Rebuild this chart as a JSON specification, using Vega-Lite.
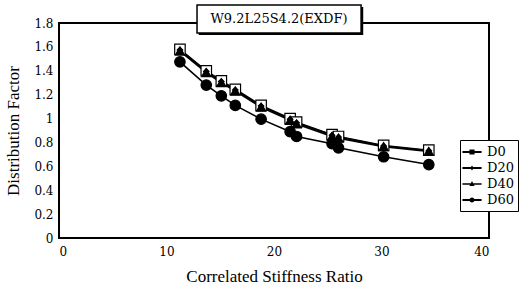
{
  "$schema": "https://vega.github.io/schema/vega-lite/v6.json",
  "width": 430,
  "height": 215,
  "autosize": "none",
  "padding": {"left": 59, "top": 23, "right": 40, "bottom": 47},
  "background": "white",
  "config": {
    "view": {"stroke": "black", "strokeWidth": 2},
    "font": "DejaVu Serif",
    "axis": {
      "grid": false,
      "domain": false,
      "ticks": false,
      "labelFont": "DejaVu Serif",
      "labelFontWeight": "normal",
      "labelFontSize": 12,
      "labelColor": "black",
      "labelOverlap": false,
      "titleFont": "Liberation Serif",
      "titleFontWeight": "normal",
      "titleFontSize": 17,
      "titleColor": "black"
    },
    "legend": {"labelFont": "DejaVu Serif", "labelFontWeight": "normal"}
  },
  "datasets": {
    "pts": [
      {"series": "D0", "ratio": 11.25, "factor": 1.58},
      {"series": "D0", "ratio": 13.7, "factor": 1.40},
      {"series": "D0", "ratio": 15.1, "factor": 1.315},
      {"series": "D0", "ratio": 16.4, "factor": 1.245},
      {"series": "D0", "ratio": 18.8, "factor": 1.11},
      {"series": "D0", "ratio": 21.5, "factor": 1.0},
      {"series": "D0", "ratio": 22.1, "factor": 0.97},
      {"series": "D0", "ratio": 25.4, "factor": 0.865},
      {"series": "D0", "ratio": 26.0, "factor": 0.85},
      {"series": "D0", "ratio": 30.2, "factor": 0.775},
      {"series": "D0", "ratio": 34.4, "factor": 0.735},
      {"series": "D20", "ratio": 11.25, "factor": 1.575},
      {"series": "D20", "ratio": 13.7, "factor": 1.395},
      {"series": "D20", "ratio": 15.1, "factor": 1.31},
      {"series": "D20", "ratio": 16.4, "factor": 1.24},
      {"series": "D20", "ratio": 18.8, "factor": 1.105},
      {"series": "D20", "ratio": 21.5, "factor": 0.995},
      {"series": "D20", "ratio": 22.1, "factor": 0.965},
      {"series": "D20", "ratio": 25.4, "factor": 0.86},
      {"series": "D20", "ratio": 26.0, "factor": 0.845},
      {"series": "D20", "ratio": 30.2, "factor": 0.77},
      {"series": "D20", "ratio": 34.4, "factor": 0.73},
      {"series": "D40", "ratio": 11.25, "factor": 1.565},
      {"series": "D40", "ratio": 13.7, "factor": 1.385},
      {"series": "D40", "ratio": 15.1, "factor": 1.30},
      {"series": "D40", "ratio": 16.4, "factor": 1.23},
      {"series": "D40", "ratio": 18.8, "factor": 1.095},
      {"series": "D40", "ratio": 21.5, "factor": 0.985},
      {"series": "D40", "ratio": 22.1, "factor": 0.955},
      {"series": "D40", "ratio": 25.4, "factor": 0.85},
      {"series": "D40", "ratio": 26.0, "factor": 0.835},
      {"series": "D40", "ratio": 30.2, "factor": 0.765},
      {"series": "D40", "ratio": 34.4, "factor": 0.725},
      {"series": "D60", "ratio": 11.25, "factor": 1.475},
      {"series": "D60", "ratio": 13.7, "factor": 1.28},
      {"series": "D60", "ratio": 15.1, "factor": 1.19},
      {"series": "D60", "ratio": 16.4, "factor": 1.11},
      {"series": "D60", "ratio": 18.8, "factor": 0.995},
      {"series": "D60", "ratio": 21.5, "factor": 0.89},
      {"series": "D60", "ratio": 22.1, "factor": 0.85},
      {"series": "D60", "ratio": 25.4, "factor": 0.79},
      {"series": "D60", "ratio": 26.0, "factor": 0.755},
      {"series": "D60", "ratio": 30.2, "factor": 0.68},
      {"series": "D60", "ratio": 34.4, "factor": 0.615}
    ],
    "ttl": [{"label": "W9.2L25S4.2(EXDF)"}]
  },
  "resolve": {"scale": {"shape": "independent", "fill": "independent", "size": "independent"}},
  "layer": [
    {
      "data": {"name": "pts"},
      "mark": {"type": "line", "color": "black", "strokeWidth": 1.6},
      "encoding": {
        "x": {"field": "ratio", "type": "quantitative", "scale": {"domain": [0, 40]},
              "axis": {"values": [0, 10, 20, 30, 40], "title": "Correlated Stiffness Ratio", "labelPadding": 8, "titlePadding": 11, "labelOverlap": false}},
        "y": {"field": "factor", "type": "quantitative", "scale": {"domain": [0, 1.8]},
              "axis": {"values": [0, 0.2, 0.4, 0.6, 0.8, 1, 1.2, 1.4, 1.6, 1.8], "format": "~g", "title": "Distribution Factor", "labelPadding": 6, "titlePadding": 11, "labelOverlap": false}},
        "detail": {"field": "series"}
      }
    },
    {
      "data": {"name": "pts"},
      "mark": {"type": "point", "filled": true, "stroke": "black", "strokeWidth": 1.2, "opacity": 1},
      "encoding": {
        "x": {"field": "ratio", "type": "quantitative", "scale": {"domain": [0, 40]},
              "axis": {"values": [0, 10, 20, 30, 40], "title": "Correlated Stiffness Ratio", "labelPadding": 8, "titlePadding": 11, "labelOverlap": false}},
        "y": {"field": "factor", "type": "quantitative", "scale": {"domain": [0, 1.8]},
              "axis": {"values": [0, 0.2, 0.4, 0.6, 0.8, 1, 1.2, 1.4, 1.6, 1.8], "format": "~g", "title": "Distribution Factor", "labelPadding": 6, "titlePadding": 11, "labelOverlap": false}},
        "shape": {"field": "series", "type": "nominal", "legend": null,
                  "scale": {"domain": ["D0", "D20", "D40", "D60"], "range": ["square", "diamond", "triangle-up", "circle"]}},
        "fill": {"field": "series", "type": "nominal", "legend": null,
                 "scale": {"domain": ["D0", "D20", "D40", "D60"], "range": ["white", "black", "black", "black"]}},
        "size": {"field": "series", "type": "nominal", "legend": null,
                 "scale": {"type": "ordinal", "domain": ["D0", "D20", "D40", "D60"], "range": [110, 30, 85, 110]}}
      }
    },
    {
      "data": {"name": "pts"},
      "mark": {"type": "point", "opacity": 0, "filled": true, "fill": "black"},
      "encoding": {
        "x": {"field": "ratio", "type": "quantitative", "scale": {"domain": [0, 40]},
              "axis": {"values": [0, 10, 20, 30, 40], "title": "Correlated Stiffness Ratio", "labelPadding": 8, "titlePadding": 11, "labelOverlap": false}},
        "y": {"field": "factor", "type": "quantitative", "scale": {"domain": [0, 1.8]},
              "axis": {"values": [0, 0.2, 0.4, 0.6, 0.8, 1, 1.2, 1.4, 1.6, 1.8], "format": "~g", "title": "Distribution Factor", "labelPadding": 6, "titlePadding": 11, "labelOverlap": false}},
        "shape": {"field": "series", "type": "nominal",
                  "scale": {"domain": ["D0", "D20", "D40", "D60"],
                            "range": [
                              "M-1.2,-0.12H1.2V0.12H-1.2ZM-0.32,-0.32H0.32V0.32H-0.32Z",
                              "M-1.2,-0.12H1.2V0.12H-1.2ZM0,-0.3L0.22,0L0,0.3L-0.22,0Z",
                              "M-1.2,-0.1H1.2V0.1H-1.2ZM0,-0.38L0.33,0.25H-0.33Z",
                              "M-1.2,-0.12H1.2V0.12H-1.2ZM-0.32,0A0.32,0.32 0 1,1 0.32,0A0.32,0.32 0 1,1 -0.32,0Z"
                            ]},
                  "legend": {
                    "title": null,
                    "orient": "none",
                    "legendX": 401,
                    "legendY": 117,
                    "strokeColor": "black",
                    "fillColor": "white",
                    "padding": 4,
                    "symbolSize": 256,
                    "symbolFillColor": "black",
                    "symbolStrokeColor": "black",
                    "symbolStrokeWidth": 0,
                    "symbolOpacity": 1,
                    "labelFont": "DejaVu Serif",
                    "labelFontSize": 13,
                    "labelColor": "black",
                    "labelOffset": 7,
                    "rowPadding": 1
                  }}
      }
    },
    {
      "data": {"name": "ttl"},
      "mark": {"type": "rect", "fill": "black", "clip": false},
      "encoding": {
        "x": {"datum": 13.0, "type": "quantitative", "scale": {"domain": [0, 40]},
              "axis": {"values": [0, 10, 20, 30, 40], "title": "Correlated Stiffness Ratio", "labelPadding": 8, "titlePadding": 11, "labelOverlap": false}},
        "x2": {"datum": 28.3},
        "y": {"datum": 1.935, "type": "quantitative", "scale": {"domain": [0, 1.8]},
              "axis": {"values": [0, 0.2, 0.4, 0.6, 0.8, 1, 1.2, 1.4, 1.6, 1.8], "format": "~g", "title": "Distribution Factor", "labelPadding": 6, "titlePadding": 11, "labelOverlap": false}},
        "y2": {"datum": 1.70}
      }
    },
    {
      "data": {"name": "ttl"},
      "mark": {"type": "rect", "fill": "white", "stroke": "black", "strokeWidth": 1.5, "clip": false},
      "encoding": {
        "x": {"datum": 12.84, "type": "quantitative", "scale": {"domain": [0, 40]},
              "axis": {"values": [0, 10, 20, 30, 40], "title": "Correlated Stiffness Ratio", "labelPadding": 8, "titlePadding": 11, "labelOverlap": false}},
        "x2": {"datum": 28.1},
        "y": {"datum": 1.951, "type": "quantitative", "scale": {"domain": [0, 1.8]},
              "axis": {"values": [0, 0.2, 0.4, 0.6, 0.8, 1, 1.2, 1.4, 1.6, 1.8], "format": "~g", "title": "Distribution Factor", "labelPadding": 6, "titlePadding": 11, "labelOverlap": false}},
        "y2": {"datum": 1.717}
      }
    },
    {
      "data": {"name": "ttl"},
      "mark": {"type": "text", "font": "DejaVu Serif", "fontSize": 13, "fontWeight": "normal", "color": "black", "baseline": "middle", "align": "center", "clip": false},
      "encoding": {
        "x": {"datum": 20.47, "type": "quantitative", "scale": {"domain": [0, 40]},
              "axis": {"values": [0, 10, 20, 30, 40], "title": "Correlated Stiffness Ratio", "labelPadding": 8, "titlePadding": 11, "labelOverlap": false}},
        "y": {"datum": 1.834, "type": "quantitative", "scale": {"domain": [0, 1.8]},
              "axis": {"values": [0, 0.2, 0.4, 0.6, 0.8, 1, 1.2, 1.4, 1.6, 1.8], "format": "~g", "title": "Distribution Factor", "labelPadding": 6, "titlePadding": 11, "labelOverlap": false}},
        "text": {"field": "label"}
      }
    }
  ]
}
